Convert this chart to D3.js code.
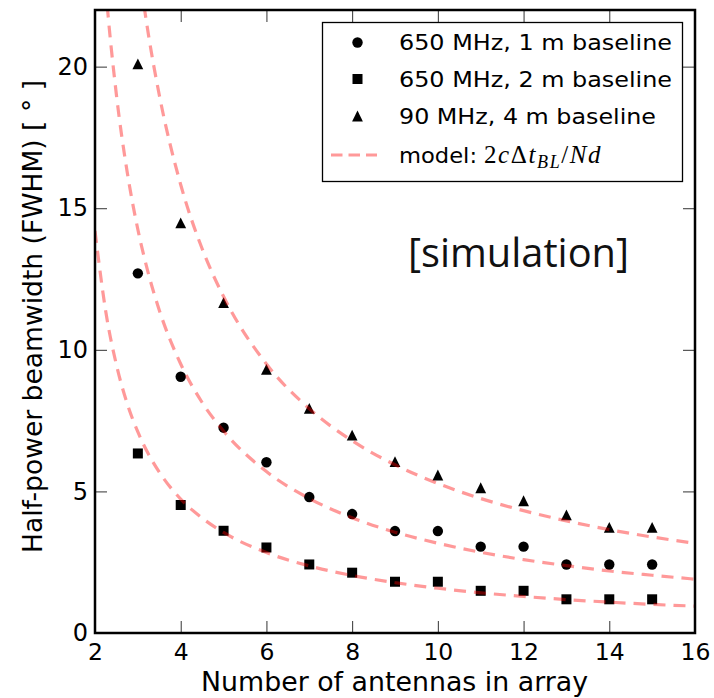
<!DOCTYPE html>
<html>
<head>
<meta charset="utf-8">
<script src="https://cdn.jsdelivr.net/npm/d3@7"></script>
<style>
  body { margin: 0; background: #fff; }
  svg { display: block; font-family: "DejaVu Sans", sans-serif; }
  .tick line { stroke: #333; stroke-width: 1; }
</style>
</head>
<body>
<svg width="714" height="698"></svg>
<script>
// antennas in array
var antennas = [3, 4, 5, 6, 7, 8, 9, 10, 11, 12, 13, 14, 15];
// simulated FWHM [deg]
var fwhm1m = [12.7, 9.05, 7.25, 6.03, 4.8, 4.2, 3.6, 3.6, 3.05, 3.05, 2.42, 2.42, 2.42];
var fwhm2m = [6.34, 4.52, 3.61, 3.02, 2.42, 2.13, 1.81, 1.81, 1.49, 1.49, 1.19, 1.19, 1.19];
var fwhm4m = [20.1, 14.48, 11.67, 9.31, 7.93, 6.99, 6.05, 5.58, 5.13, 4.67, 4.17, 3.73, 3.73];

// model curves
var modelN   = [2, 2.25, 2.5, 2.75, 3, 3.25, 3.5, 4, 4.5, 5, 6, 7, 8, 9, 10, 11, 12, 13, 14, 15, 16];
var model2m  = [14.2, 11.36, 9.47, 8.11, 7.1, 6.31, 5.68, 4.73, 4.06, 3.55, 2.84, 2.37, 2.03, 1.78, 1.58, 1.42, 1.29, 1.18, 1.09, 1.01, 0.95];
var model1m  = [28.5, 22.8, 19.0, 16.29, 14.25, 12.67, 11.4, 9.5, 8.14, 7.13, 5.7, 4.75, 4.07, 3.56, 3.17, 2.85, 2.59, 2.38, 2.19, 2.04, 1.9];
var model4m  = [47.5, 38.0, 31.7, 27.1, 23.75, 21.1, 19.0, 15.83, 13.57, 11.88, 9.5, 7.92, 6.79, 5.94, 5.28, 4.75, 4.32, 3.96, 3.65, 3.39, 3.17];

var xTicks = [2, 4, 6, 8, 10, 12, 14, 16];
var yTicks = [0, 5, 10, 15, 20];

var legendLabels = ["650 MHz, 1 m baseline", "650 MHz, 2 m baseline", "90 MHz, 4 m baseline"];

var svg = d3.select("svg");
var pL = 95, pR = 695, pT = 10, pB = 633;

var x = d3.scaleLinear().domain([2, 16]).range([pL, pR]);
var y = d3.scaleLinear().domain([0, 22]).range([pB, pT]);

// triangle like matplotlib '^'
function tri(s) {
  return "M0," + (-s) + "L" + s + "," + s + "L" + (-s) + "," + s + "Z";
}
var shapes = {
  circle: function(g) { return g.append("circle").attr("r", 5.2); },
  square: function(g) { return g.append("rect").attr("x", -5).attr("y", -5).attr("width", 10).attr("height", 10); },
  triangle: function(g) { return g.append("path").attr("d", tri(5.4)); }
};

svg.append("defs").append("clipPath").attr("id", "clip")
  .append("rect").attr("x", pL).attr("y", pT).attr("width", pR - pL).attr("height", pB - pT);

// axes (ticks pointing inward)
var xAxis = svg.append("g").attr("transform", "translate(0," + pB + ")")
  .call(d3.axisBottom(x).tickValues(xTicks).tickSizeInner(-12).tickSizeOuter(0).tickPadding(10));
xAxis.selectAll("text").style("font-size", "23.5px").style("font-family", "DejaVu Sans").attr("fill", "#000");

var yAxis = svg.append("g").attr("transform", "translate(" + pL + ",0)")
  .call(d3.axisLeft(y).tickValues(yTicks).tickSizeInner(-12).tickSizeOuter(0).tickPadding(7));
yAxis.selectAll("text").style("font-size", "24px").style("font-family", "DejaVu Sans").attr("fill", "#000");

svg.append("g").attr("transform", "translate(0," + pT + ")")
  .call(d3.axisTop(x).tickValues(xTicks).tickSizeInner(-12).tickSizeOuter(0).tickFormat(""));
svg.append("g").attr("transform", "translate(" + pR + ",0)")
  .call(d3.axisRight(y).tickValues(yTicks).tickSizeInner(-12).tickSizeOuter(0).tickFormat(""));

svg.selectAll(".domain").remove();

// markers
var series = [
  { vals: fwhm1m, shape: "circle" },
  { vals: fwhm2m, shape: "square" },
  { vals: fwhm4m, shape: "triangle" }
];
series.forEach(function(s) {
  antennas.forEach(function(n, i) {
    var g = svg.append("g").attr("transform", "translate(" + x(n) + "," + y(s.vals[i]) + ")");
    shapes[s.shape](g).attr("fill", "#000");
  });
});

// model curves on top, semi transparent red
var line = d3.line()
  .x(function(d) { return x(d[0]); })
  .y(function(d) { return y(d[1]); })
  .curve(d3.curveMonotoneX);

[model2m, model1m, model4m].forEach(function(m) {
  svg.append("path")
    .attr("clip-path", "url(#clip)")
    .attr("d", line(d3.zip(modelN, m)))
    .attr("fill", "none")
    .attr("stroke", "red")
    .attr("stroke-opacity", 0.4)
    .attr("stroke-width", 3.2)
    .attr("stroke-dasharray", "12,8");
});

// frame
svg.append("rect")
  .attr("x", pL).attr("y", pT)
  .attr("width", pR - pL).attr("height", pB - pT)
  .attr("fill", "none").attr("stroke", "#000").attr("stroke-width", 2.5);

// axis titles
svg.append("text")
  .attr("x", 201).attr("y", 691)
  .attr("font-size", 26)
  .attr("textLength", 387).attr("lengthAdjust", "spacingAndGlyphs")
  .text("Number of antennas in array");

svg.append("text")
  .attr("transform", "translate(42,553) rotate(-90)")
  .attr("font-size", 26)
  .attr("textLength", 473).attr("lengthAdjust", "spacingAndGlyphs")
  .text("Half-power beamwidth (FWHM) [ ° ]");

// annotation
svg.append("text")
  .attr("x", 408).attr("y", 267)
  .attr("font-family", "'Open Sans', sans-serif")
  .attr("font-size", 40)
  .attr("textLength", 221).attr("lengthAdjust", "spacingAndGlyphs")
  .attr("fill", "#111")
  .text("[simulation]");

// legend
var legend = svg.append("g");
legend.append("rect")
  .attr("x", 322.5).attr("y", 22.5).attr("width", 360).attr("height", 159)
  .attr("fill", "#fff").attr("stroke", "#000").attr("stroke-width", 1.3);

var rowY = [42.5, 79, 116, 155];
var textW = [273, 273, 257];
series.forEach(function(s, i) {
  var g = legend.append("g").attr("transform", "translate(357.5," + rowY[i] + ")");
  shapes[s.shape](g).attr("fill", "#000");
  legend.append("text")
    .attr("x", 399).attr("y", rowY[i] + 7.8)
    .attr("font-size", 22)
    .attr("textLength", textW[i]).attr("lengthAdjust", "spacingAndGlyphs")
    .text(legendLabels[i]);
});
legend.append("line")
  .attr("x1", 331).attr("x2", 377).attr("y1", rowY[3]).attr("y2", rowY[3])
  .attr("stroke", "red").attr("stroke-opacity", 0.4)
  .attr("stroke-width", 3.2).attr("stroke-dasharray", "11.5,6");

var mt = legend.append("text")
  .attr("x", 399).attr("y", rowY[3] + 8)
  .attr("font-size", 22);
mt.append("tspan").attr("textLength", 78).attr("lengthAdjust", "spacingAndGlyphs").text("model:");
var math = mt.append("tspan").attr("x", 484)
  .attr("font-family", "'Liberation Serif', 'DejaVu Serif', serif")
  .attr("font-size", 25)
  .attr("letter-spacing", 1.6);
math.append("tspan").text("2");
math.append("tspan").attr("font-style", "italic").text("c");
math.append("tspan").text("Δ");
math.append("tspan").attr("font-style", "italic").text("t");
math.append("tspan").attr("font-style", "italic").attr("font-size", 18).attr("dy", 5).text("BL");
math.append("tspan").attr("dy", -5).text("/");
math.append("tspan").attr("font-style", "italic").text("Nd");
</script>
</body>
</html>
